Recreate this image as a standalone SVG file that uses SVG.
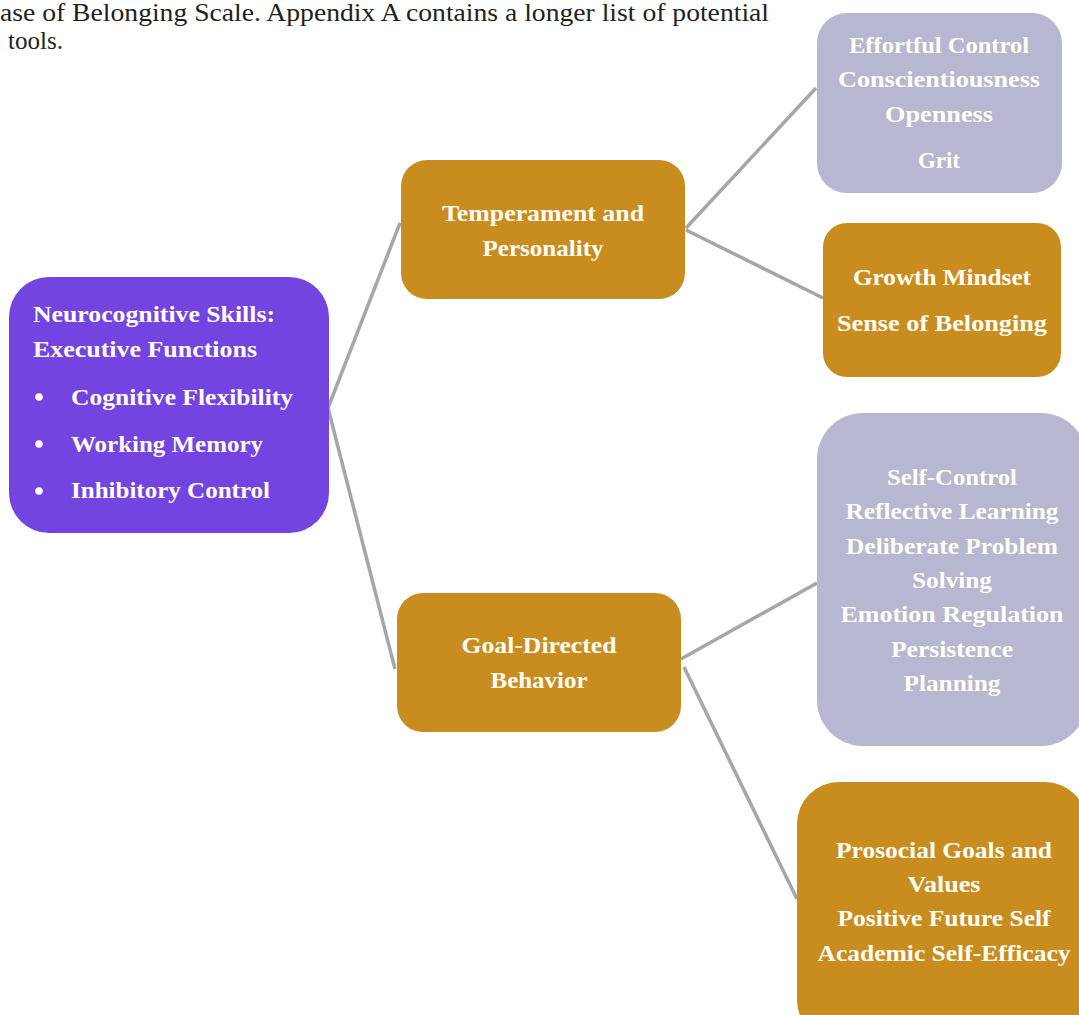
<svg xmlns="http://www.w3.org/2000/svg" width="1079" height="1015" viewBox="0 0 1079 1015">
<style>
.t{font-family:"Liberation Serif","DejaVu Serif",serif;font-weight:bold;font-size:24px;fill:#FFFDF7;text-anchor:middle}
.l{font-family:"Liberation Serif","DejaVu Serif",serif;font-weight:bold;font-size:24px;fill:#FFFDF7}
.p{font-family:"Liberation Serif","DejaVu Serif",serif;font-size:25px;fill:#231F20}
.gold{fill:#C98D1F}
.lav{fill:#B7B7D1}
.pur{fill:#7444E0}
.c{stroke:#A6A6A6;stroke-width:3.5;fill:none}
</style>
<rect width="1079" height="1015" fill="#fff"/>
<g id="para">
<text class="p" x="0" y="21" textLength="769" lengthAdjust="spacingAndGlyphs">ase of Belonging Scale. Appendix A contains a longer list of potential</text>
<text class="p" x="8" y="49" textLength="55" lengthAdjust="spacingAndGlyphs">tools.</text>
</g>
<g id="connectors">
<line class="c" x1="328" y1="408" x2="400" y2="223"/>
<line class="c" x1="328" y1="408" x2="395" y2="669"/>
<line class="c" x1="686" y1="228" x2="816" y2="88"/>
<line class="c" x1="686" y1="230" x2="823" y2="298"/>
<line class="c" x1="681" y1="659" x2="817" y2="583"/>
<line class="c" x1="684" y1="667" x2="797" y2="899"/>
</g>
<g id="neurocognitive">
<rect class="pur" x="9" y="277" width="320" height="256" rx="40"/>
<text class="l" x="33" y="322" textLength="242" lengthAdjust="spacingAndGlyphs">Neurocognitive Skills:</text>
<text class="l" x="33" y="357" textLength="224" lengthAdjust="spacingAndGlyphs">Executive Functions</text>
<circle cx="39" cy="397" r="3.8" fill="#FFFDF7"/>
<circle cx="39" cy="444" r="3.8" fill="#FFFDF7"/>
<circle cx="39" cy="491" r="3.8" fill="#FFFDF7"/>
<text class="l" x="71" y="405" textLength="222" lengthAdjust="spacingAndGlyphs">Cognitive Flexibility</text>
<text class="l" x="71" y="452" textLength="192" lengthAdjust="spacingAndGlyphs">Working Memory</text>
<text class="l" x="71" y="498" textLength="199" lengthAdjust="spacingAndGlyphs">Inhibitory Control</text>
</g>
<g id="temperament">
<rect class="gold" x="401" y="160" width="284" height="139" rx="26"/>
<text class="t" x="543" y="221" textLength="202" lengthAdjust="spacingAndGlyphs">Temperament and</text>
<text class="t" x="543" y="256" textLength="121" lengthAdjust="spacingAndGlyphs">Personality</text>
</g>
<g id="goal">
<rect class="gold" x="397" y="593" width="284" height="139" rx="26"/>
<text class="t" x="539" y="653" textLength="155" lengthAdjust="spacingAndGlyphs">Goal-Directed</text>
<text class="t" x="539" y="688" textLength="97" lengthAdjust="spacingAndGlyphs">Behavior</text>
</g>
<g id="effortful">
<rect class="lav" x="817" y="13" width="245" height="180" rx="30"/>
<text class="t" x="939" y="53" textLength="180" lengthAdjust="spacingAndGlyphs">Effortful Control</text>
<text class="t" x="939" y="87" textLength="202" lengthAdjust="spacingAndGlyphs">Conscientiousness</text>
<text class="t" x="939" y="122" textLength="108" lengthAdjust="spacingAndGlyphs">Openness</text>
<text class="t" x="939" y="168" textLength="42" lengthAdjust="spacingAndGlyphs">Grit</text>
</g>
<g id="growth">
<rect class="gold" x="823" y="223" width="238" height="154" rx="24"/>
<text class="t" x="942" y="285" textLength="178" lengthAdjust="spacingAndGlyphs">Growth Mindset</text>
<text class="t" x="942" y="331" textLength="210" lengthAdjust="spacingAndGlyphs">Sense of Belonging</text>
</g>
<g id="selfcontrol">
<rect class="lav" x="817" y="413" width="270" height="333" rx="46"/>
<text class="t" x="952" y="485" textLength="130" lengthAdjust="spacingAndGlyphs">Self-Control</text>
<text class="t" x="952" y="519" textLength="213" lengthAdjust="spacingAndGlyphs">Reflective Learning</text>
<text class="t" x="952" y="554" textLength="212" lengthAdjust="spacingAndGlyphs">Deliberate Problem</text>
<text class="t" x="952" y="588" textLength="80" lengthAdjust="spacingAndGlyphs">Solving</text>
<text class="t" x="952" y="622" textLength="223" lengthAdjust="spacingAndGlyphs">Emotion Regulation</text>
<text class="t" x="952" y="657" textLength="122" lengthAdjust="spacingAndGlyphs">Persistence</text>
<text class="t" x="952" y="691" textLength="97" lengthAdjust="spacingAndGlyphs">Planning</text>
</g>
<g id="prosocial">
<rect class="gold" x="797" y="782" width="290" height="260" rx="42"/>
<text class="t" x="944" y="858" textLength="216" lengthAdjust="spacingAndGlyphs">Prosocial Goals and</text>
<text class="t" x="944" y="892" textLength="73" lengthAdjust="spacingAndGlyphs">Values</text>
<text class="t" x="944" y="926" textLength="213" lengthAdjust="spacingAndGlyphs">Positive Future Self</text>
<text class="t" x="944" y="961" textLength="253" lengthAdjust="spacingAndGlyphs">Academic Self-Efficacy</text>
</g>
</svg>
